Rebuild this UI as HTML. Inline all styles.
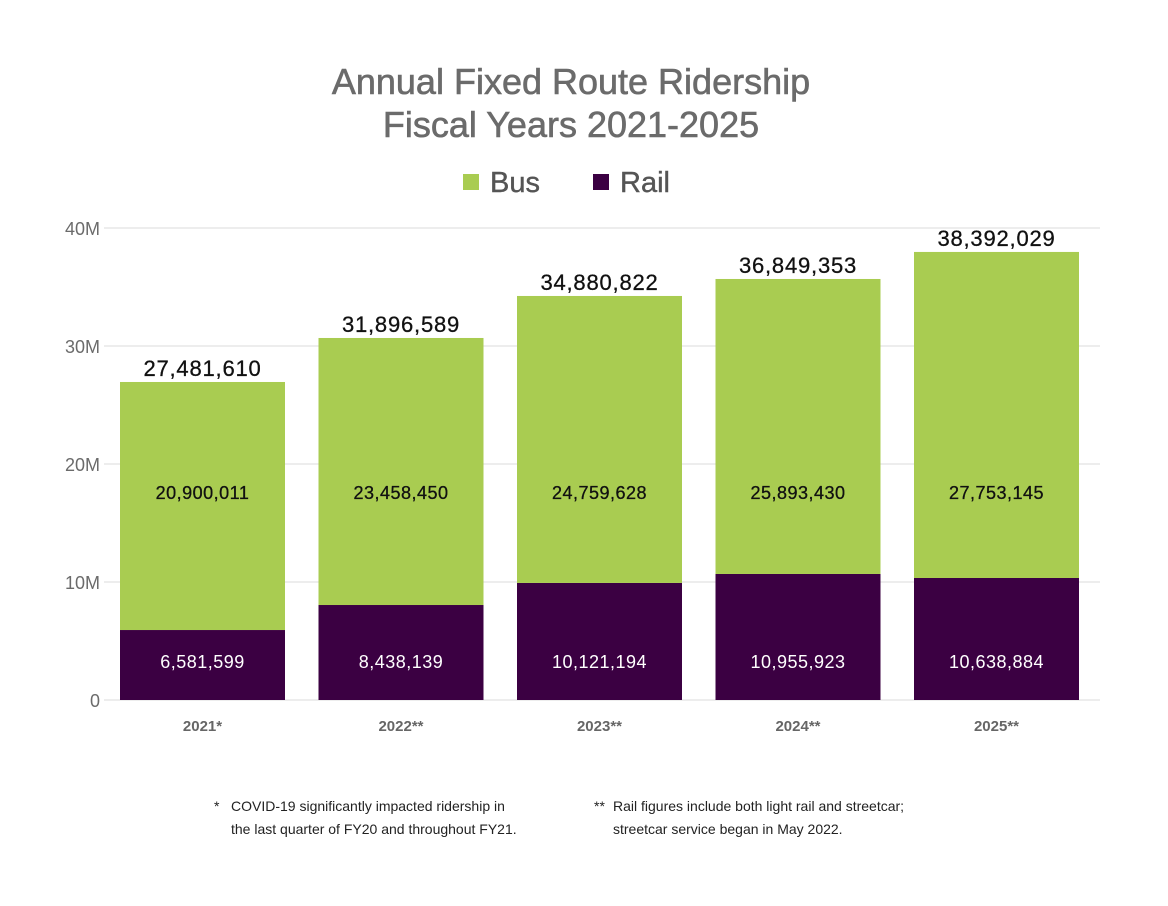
<!DOCTYPE html>
<html><head><meta charset="utf-8"><style>
body{margin:0;background:#fff;width:1168px;height:901px;overflow:hidden;font-family:"Liberation Sans",sans-serif}
</style></head><body>
<svg id="chart" width="1168" height="901" xmlns="http://www.w3.org/2000/svg">
<text x="571" y="94" text-anchor="middle" font-size="36" fill="#6b6b6b" stroke="#6b6b6b" stroke-width="0.6" font-family="Liberation Sans, sans-serif">Annual Fixed Route Ridership</text>
<text x="571" y="137" text-anchor="middle" font-size="36" fill="#6b6b6b" stroke="#6b6b6b" stroke-width="0.6" font-family="Liberation Sans, sans-serif">Fiscal Years 2021-2025</text>
<g>
<rect x="463" y="174" width="16" height="16" fill="#a9cc51"/>
<text x="490" y="192" font-size="29" fill="#555" stroke="#555" stroke-width="0.4">Bus</text>
<rect x="593" y="174" width="16" height="16" fill="#3b0042"/>
<text x="620" y="192" font-size="29" fill="#555" stroke="#555" stroke-width="0.4">Rail</text>
</g>
<g id="grid"></g><g id="bars"></g>
<g font-size="14" fill="#222">
<text x="214" y="811">*</text>
<text x="231" y="811">COVID-19 significantly impacted ridership in</text>
<text x="231" y="834">the last quarter of FY20 and throughout FY21.</text>
<text x="594" y="811">**</text>
<text x="613" y="811">Rail figures include both light rail and streetcar;</text>
<text x="613" y="834">streetcar service began in May 2022.</text>
</g>
</svg>
<script>
const categories=["2021*","2022**","2023**","2024**","2025**"];
// segment heights as drawn in the picture (millions)
const railValues=[5.93,8.05,9.92,10.68,10.34];
const busValues=[21.02,22.63,24.32,25.0,27.63];
// printed labels
const railLabels=["6,581,599","8,438,139","10,121,194","10,955,923","10,638,884"];
const busLabels=["20,900,011","23,458,450","24,759,628","25,893,430","27,753,145"];
const totalLabels=["27,481,610","31,896,589","34,880,822","36,849,353","38,392,029"];
const tickValues=[0,10,20,30,40];
const tickLabels=["0","10M","20M","30M","40M"];
const NS="http://www.w3.org/2000/svg";
const y=v=>700-v/40*472;
const x0=104,step=198.5,bw=165;
const xb=i=>x0+16+i*step;
function mk(t,a,p,txt){const e=document.createElementNS(NS,t);for(const k in a)e.setAttribute(k,a[k]);if(txt!==undefined)e.textContent=txt;p.appendChild(e);return e;}
const grid=document.getElementById("grid"),bars=document.getElementById("bars");
tickValues.forEach((v,i)=>{
 const l=mk("line",{x1:104,x2:1100,y1:y(v),y2:y(v),stroke:"#e2e2e2","stroke-width":1.3},grid);
 
 
 const t=mk("text",{x:100,y:y(v)+7,"text-anchor":"end","font-size":18,fill:"#6b6b6b"},grid,tickLabels[i]);
 
 
});
categories.forEach((c,i)=>{
 const bx=xb(i),cx=bx+bw/2;
 const r=mk("rect",{x:bx,y:y(railValues[i]),width:bw,height:700-y(railValues[i]),fill:"#3b0042"},bars);
 
 
 const top=railValues[i]+busValues[i];
 const b=mk("rect",{x:bx,y:y(top),width:bw,height:y(railValues[i])-y(top),fill:"#a9cc51"},bars);
 
 
 const rl=mk("text",{x:cx,y:668,"text-anchor":"middle","font-size":18,fill:"#fff","letter-spacing":"0.5"},bars,railLabels[i]);
 
 
 const bl=mk("text",{x:cx,y:499,"text-anchor":"middle","font-size":18,fill:"#111",stroke:"#111","stroke-width":0.3,"letter-spacing":"0.5"},bars,busLabels[i]);
 
 
 const tl=mk("text",{x:cx,y:y(top)-6,"text-anchor":"middle","font-size":22,fill:"#111",stroke:"#111","stroke-width":0.3,"letter-spacing":"0.8"},bars,totalLabels[i]);
 
 
 const xl=mk("text",{x:cx,y:731,"text-anchor":"middle","font-size":15,"font-weight":"bold",fill:"#666"},bars,c);
 
 
});
</script>
</body></html>
